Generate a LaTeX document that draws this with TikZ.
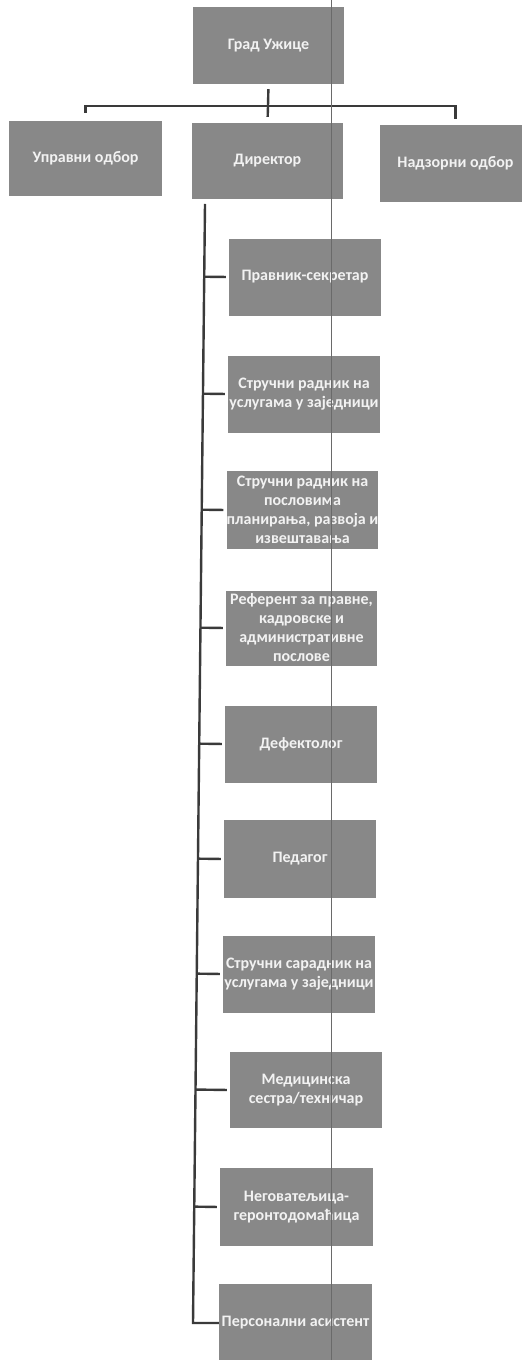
\documentclass[tikz,border=0pt]{standalone}
\usepackage{fontspec}
\setmainfont{Carlito}
\usetikzlibrary{calc}
\definecolor{boxgray}{HTML}{888888}
\definecolor{linegray}{HTML}{3A3A3A}
\definecolor{txtwhite}{HTML}{F2F2F2}
\definecolor{scanline}{HTML}{6A6A6A}
\tikzset{
  orgbox/.style={fill=boxgray, draw=none, minimum width=152pt, minimum height=77pt,
    inner sep=0pt, text=txtwhite, align=center, font=\fontsize{16}{19}\selectfont\bfseries},
  conn/.style={draw=linegray, line width=2.4pt},
}
\begin{document}
\begin{tikzpicture}[x=1pt,y=-1pt]
\useasboundingbox (0,0) rectangle (522,1360);
% top level
\node[orgbox, minimum width=151pt] (grad) at (268.5,45.5) {Град Ужице};
\node[orgbox, minimum width=153pt, minimum height=75pt] (upr) at (85.5,158.5) {Управни одбор};
\node[orgbox, minimum width=151pt, minimum height=76pt] (dir) at (267.5,161) {Директор};
\node[orgbox, minimum width=151pt] (nadz) at (455.5,163.5) {Надзорни одбор};
\coordinate (bus) at (268,106);
\draw[conn, shorten <=5pt] (grad.south) -- (bus);
\draw[conn, shorten >=8pt] (bus) -| (upr.north);
\draw[conn, shorten >=6pt] (bus) -| (nadz.north);
\draw[conn, shorten >=6pt] (bus) -- (dir.north);
% staff
\node[orgbox] (c1) at (305,277) {Правник-секретар};
\node[orgbox] (c2) at (304,394) {Стручни радник на\\услугама у заједници};
\node[orgbox, minimum width=151pt, minimum height=78pt] (c3) at (302.5,510) {Стручни радник на\\пословима\\планирања, развоја и\\извештавања};
\node[orgbox, minimum width=151pt, minimum height=75pt] (c4) at (301.5,628) {Референт за правне,\\кадровске и\\административне\\послове};
\node[orgbox] (c5) at (301,744) {Дефектолог};
\node[orgbox, minimum height=78pt] (c6) at (300,859) {Педагог};
\node[orgbox] (c7) at (299,974) {Стручни сарадник на\\услугама у заједници};
\node[orgbox, minimum height=76pt] (c8) at (306,1090) {Медицинска\\сестра/техничар};
\node[orgbox, minimum width=153pt, minimum height=78pt] (c9) at (296.5,1207) {Неговатељица-\\геронтодомаћица};
\node[orgbox, minimum width=153pt, minimum height=78pt] (c10) at (295.5,1323) {Персонални асистент};
% spine
\coordinate (sTop) at (205,204);
\coordinate (sBot) at (193,1323);
\draw[conn, shorten <=5pt] (dir.south -| sTop) -- (sTop) -- (sBot) -- (c10.west);
\foreach \c in {c1,c2,c3,c4,c5,c6,c7,c8,c9}{
  \draw[conn, shorten >=3pt] ($(sTop)!(\c.west)!(sBot)$) -- (\c.west);
}
% scan line
\draw[scanline, line width=1pt] (331.5,0) -- (331.5,1360);
\end{tikzpicture}
\end{document}
